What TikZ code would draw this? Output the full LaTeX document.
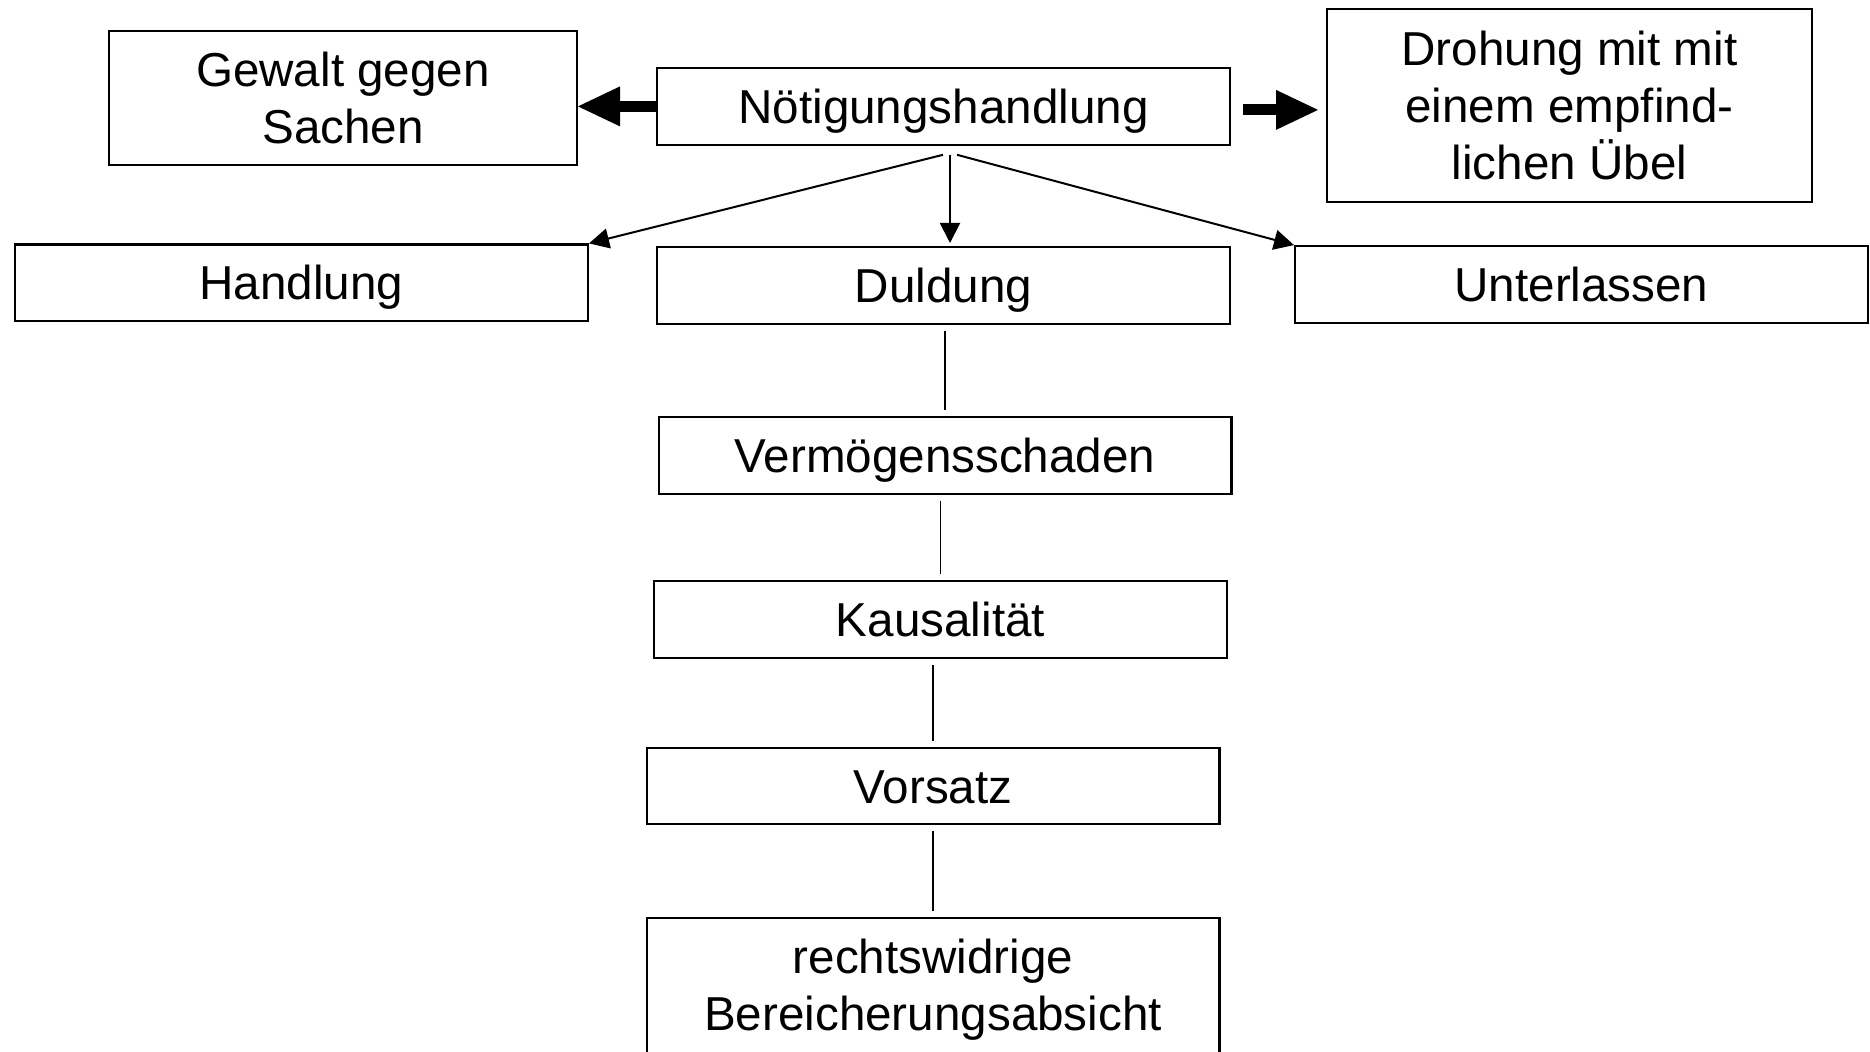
\documentclass[tikz,border=0pt]{standalone}
\usepackage{fontspec}
\setmainfont{Liberation Sans}
\usetikzlibrary{arrows.meta, positioning}
\tikzset{
  box/.style  = {draw=black, line width=1.1pt, inner sep=0pt,
                 minimum width=286.4pt, minimum height=38.3pt,
                 align=center, font=\fontsize{23.8}{28.35}\selectfont},
  line/.style = {box, text height=20pt, text depth=2.8pt},
  arr/.style  = {-{Triangle[length=10pt, width=10pt]}, line width=1pt},
  fat/.style  = {-{Triangle[length=21pt, width=20pt, line width=0pt]}, line width=5.5pt},
  link/.style = {line width=0.9pt, shorten <=3pt, shorten >=3pt},
}
\begin{document}
\begin{tikzpicture}

  \useasboundingbox (0,0) rectangle (935pt,-526pt);

  \node[line] (noet) at (471.75pt,-53.2pt) {Nötigungshandlung};
  \node[box, minimum width=233.9pt, minimum height=66.9pt,
        left=39pt of noet, yshift=4.3pt] (gewalt)
    {Gewalt gegen\\Sachen};
  \node[box, minimum width=242.4pt, minimum height=96.4pt,
        right=47.5pt of noet, yshift=0.45pt] (drohung)
    {Drohung mit mit\\einem empfind-\\lichen Übel};

  \node[line, below=50.1pt of noet] (duldung) {Duldung};
  \node[line, left=33.5pt of duldung, yshift=1.3pt] (handlung) {Handlung};
  \node[line, right=31.5pt of duldung, yshift=0.45pt] (unter) {Unterlassen};

  \node[line, below=45.6pt of duldung, xshift=0.75pt] (verm) {Vermögensschaden};
  \node[line, below=42.6pt of verm, xshift=-2.25pt] (kaus) {Kausalität};
  \node[line, below=43.95pt of kaus, xshift=-3.75pt] (vors) {Vorsatz};
  \node[box, minimum height=71pt, below=45.9pt of vors] (recht)
    {rechtswidrige\\Bereicherungsabsicht};

  % fork below the top box
  \coordinate[below=4.5pt of noet, xshift=3.25pt] (fork);
  \draw[arr] ([xshift=-3.5pt]fork) -- (handlung.north east);
  \draw[arr, shorten >=1.5pt] (fork) -- (fork |- duldung.north);
  \draw[arr] ([xshift=3.5pt]fork) -- (unter.north west);

  \draw[fat] (noet.west) -- (noet.west -| gewalt.east);
  \draw[fat, shorten <=6pt, shorten >=4pt]
    ([yshift=-1.75pt]noet.east) -- ([yshift=-1.75pt]noet.east -| drohung.west);

  \foreach \a/\b in {duldung/verm, verm/kaus, kaus/vors, vors/recht}
    \draw[link] (\b.north |- \a.south) -- (\b.north);

\end{tikzpicture}
\end{document}
